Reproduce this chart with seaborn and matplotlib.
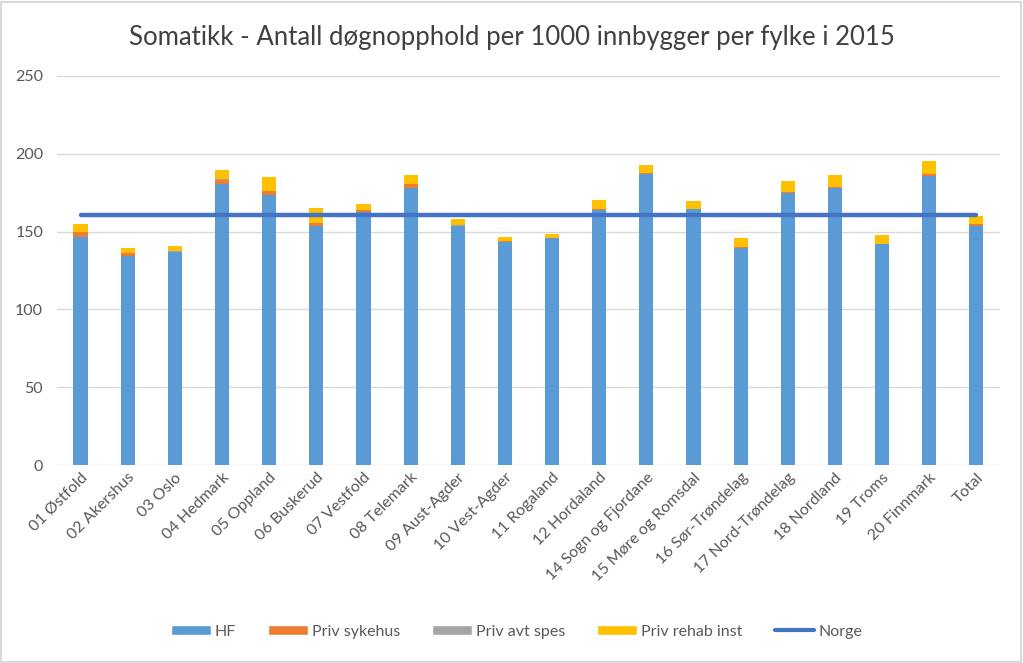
import numpy as np
import pandas as pd
import matplotlib
matplotlib.use("Agg")
import matplotlib.pyplot as plt
import seaborn as sns
from matplotlib.patches import Patch, Rectangle
from matplotlib.lines import Line2D

categories = ["01 Østfold", "02 Akershus", "03 Oslo", "04 Hedmark", "05 Oppland",
              "06 Buskerud", "07 Vestfold", "08 Telemark", "09 Aust-Agder", "10 Vest-Agder",
              "11 Rogaland", "12 Hordaland", "14 Sogn og Fjordane", "15 Møre og Romsdal",
              "16 Sør-Trøndelag", "17 Nord-Trøndelag", "18 Nordland", "19 Troms",
              "20 Finnmark", "Total"]
hf = [146.3, 134.5, 136.7, 180.8, 173.3, 153.8, 162.6, 178.2, 153.4, 143.5,
      145.9, 164.2, 187.0, 164.5, 139.7, 175.0, 178.2, 142.0, 186.0, 153.8]
priv_sykehus = [3.4, 1.5, 0.5, 2.6, 3.0, 1.9, 1.3, 2.4, 0.5, 0.3,
                0.2, 0.3, 0.7, 0.2, 0.2, 0.2, 0.2, 0.2, 0.7, 1.1]
priv_avt_spes = [0.1, 0.1, 0.1, 0.1, 0.1, 0.1, 0.1, 0.1, 0.1, 0.1,
                 0.1, 0.1, 0.1, 0.1, 0.1, 0.1, 0.1, 0.1, 0.1, 0.1]
priv_rehab = [5.1, 3.6, 3.6, 6.2, 9.0, 9.4, 3.9, 5.4, 4.2, 2.7,
              2.1, 6.0, 5.3, 5.1, 5.8, 6.9, 7.7, 5.4, 8.4, 5.1]
norge = [160.5] * len(categories)

df = pd.DataFrame({"fylke": categories, "HF": hf, "Priv sykehus": priv_sykehus,
                   "Priv avt spes": priv_avt_spes, "Priv rehab inst": priv_rehab})
df["c1"] = df["HF"]
df["c2"] = df["c1"] + df["Priv sykehus"]
df["c3"] = df["c2"] + df["Priv avt spes"]
df["c4"] = df["c3"] + df["Priv rehab inst"]

sns.set_theme(style="white")
plt.rcParams["font.family"] = ["Lato", "DejaVu Sans"]

fig = plt.figure(figsize=(10.23, 6.63), dpi=100)
ax = fig.add_axes([0.0557, 0.2986, 0.9218, 0.5868])

colors = {"HF": "#5B9BD5", "Priv sykehus": "#ED7D31",
          "Priv avt spes": "#A5A5A5", "Priv rehab inst": "#FFC000"}
for col, name in [("c4", "Priv rehab inst"), ("c3", "Priv avt spes"),
                  ("c2", "Priv sykehus"), ("c1", "HF")]:
    sns.barplot(data=df, x="fylke", y=col, color=colors[name], width=0.3,
                saturation=1, ax=ax, zorder=3, linewidth=0, edgecolor="none")

sns.lineplot(x=np.arange(len(categories)), y=norge, color="#4472C4",
             linewidth=3.2, ax=ax, zorder=4, solid_capstyle="round")

ax.set_xlim(-0.5, len(categories) - 0.5)
ax.set_ylim(0, 250)
ax.set_yticks(np.arange(0, 251, 50))
ax.yaxis.grid(True, color="#D9D9D9", linewidth=1, zorder=0)
ax.set_axisbelow(True)
for s in ["top", "right", "left", "bottom"]:
    ax.spines[s].set_visible(False)
ax.set_xlabel("")
ax.set_ylabel("")
ax.tick_params(axis="both", length=0, colors="#595959", labelsize=11.5)
ax.tick_params(axis="y", pad=10)
ax.set_xticks(np.arange(len(categories)))
ax.set_xticklabels(categories, rotation=45, ha="right", rotation_mode="anchor")
ax.tick_params(axis="x", pad=4)

fig.text(0.5, 0.943, "Somatikk - Antall døgnopphold per 1000 innbygger per fylke i 2015",
         ha="center", va="center", fontsize=18.5, color="#404040")

handles = [Patch(facecolor=colors["HF"], label="HF"),
           Patch(facecolor=colors["Priv sykehus"], label="Priv sykehus"),
           Patch(facecolor=colors["Priv avt spes"], label="Priv avt spes"),
           Patch(facecolor=colors["Priv rehab inst"], label="Priv rehab inst"),
           Line2D([0], [0], color="#4472C4", linewidth=3, label="Norge")]
fig.legend(handles=handles, loc="center", bbox_to_anchor=(0.505, 0.047), ncol=5,
           frameon=False, fontsize=11.5, handlelength=2.5, handleheight=0.6,
           columnspacing=2.0, handletextpad=0.25, labelcolor="#595959")

fig.patches.append(Rectangle((0.001, 0.0015), 0.997, 0.996, transform=fig.transFigure,
                             fill=False, edgecolor="#D9D9D9", linewidth=1.5))

fig.savefig("out.png", dpi=100)
